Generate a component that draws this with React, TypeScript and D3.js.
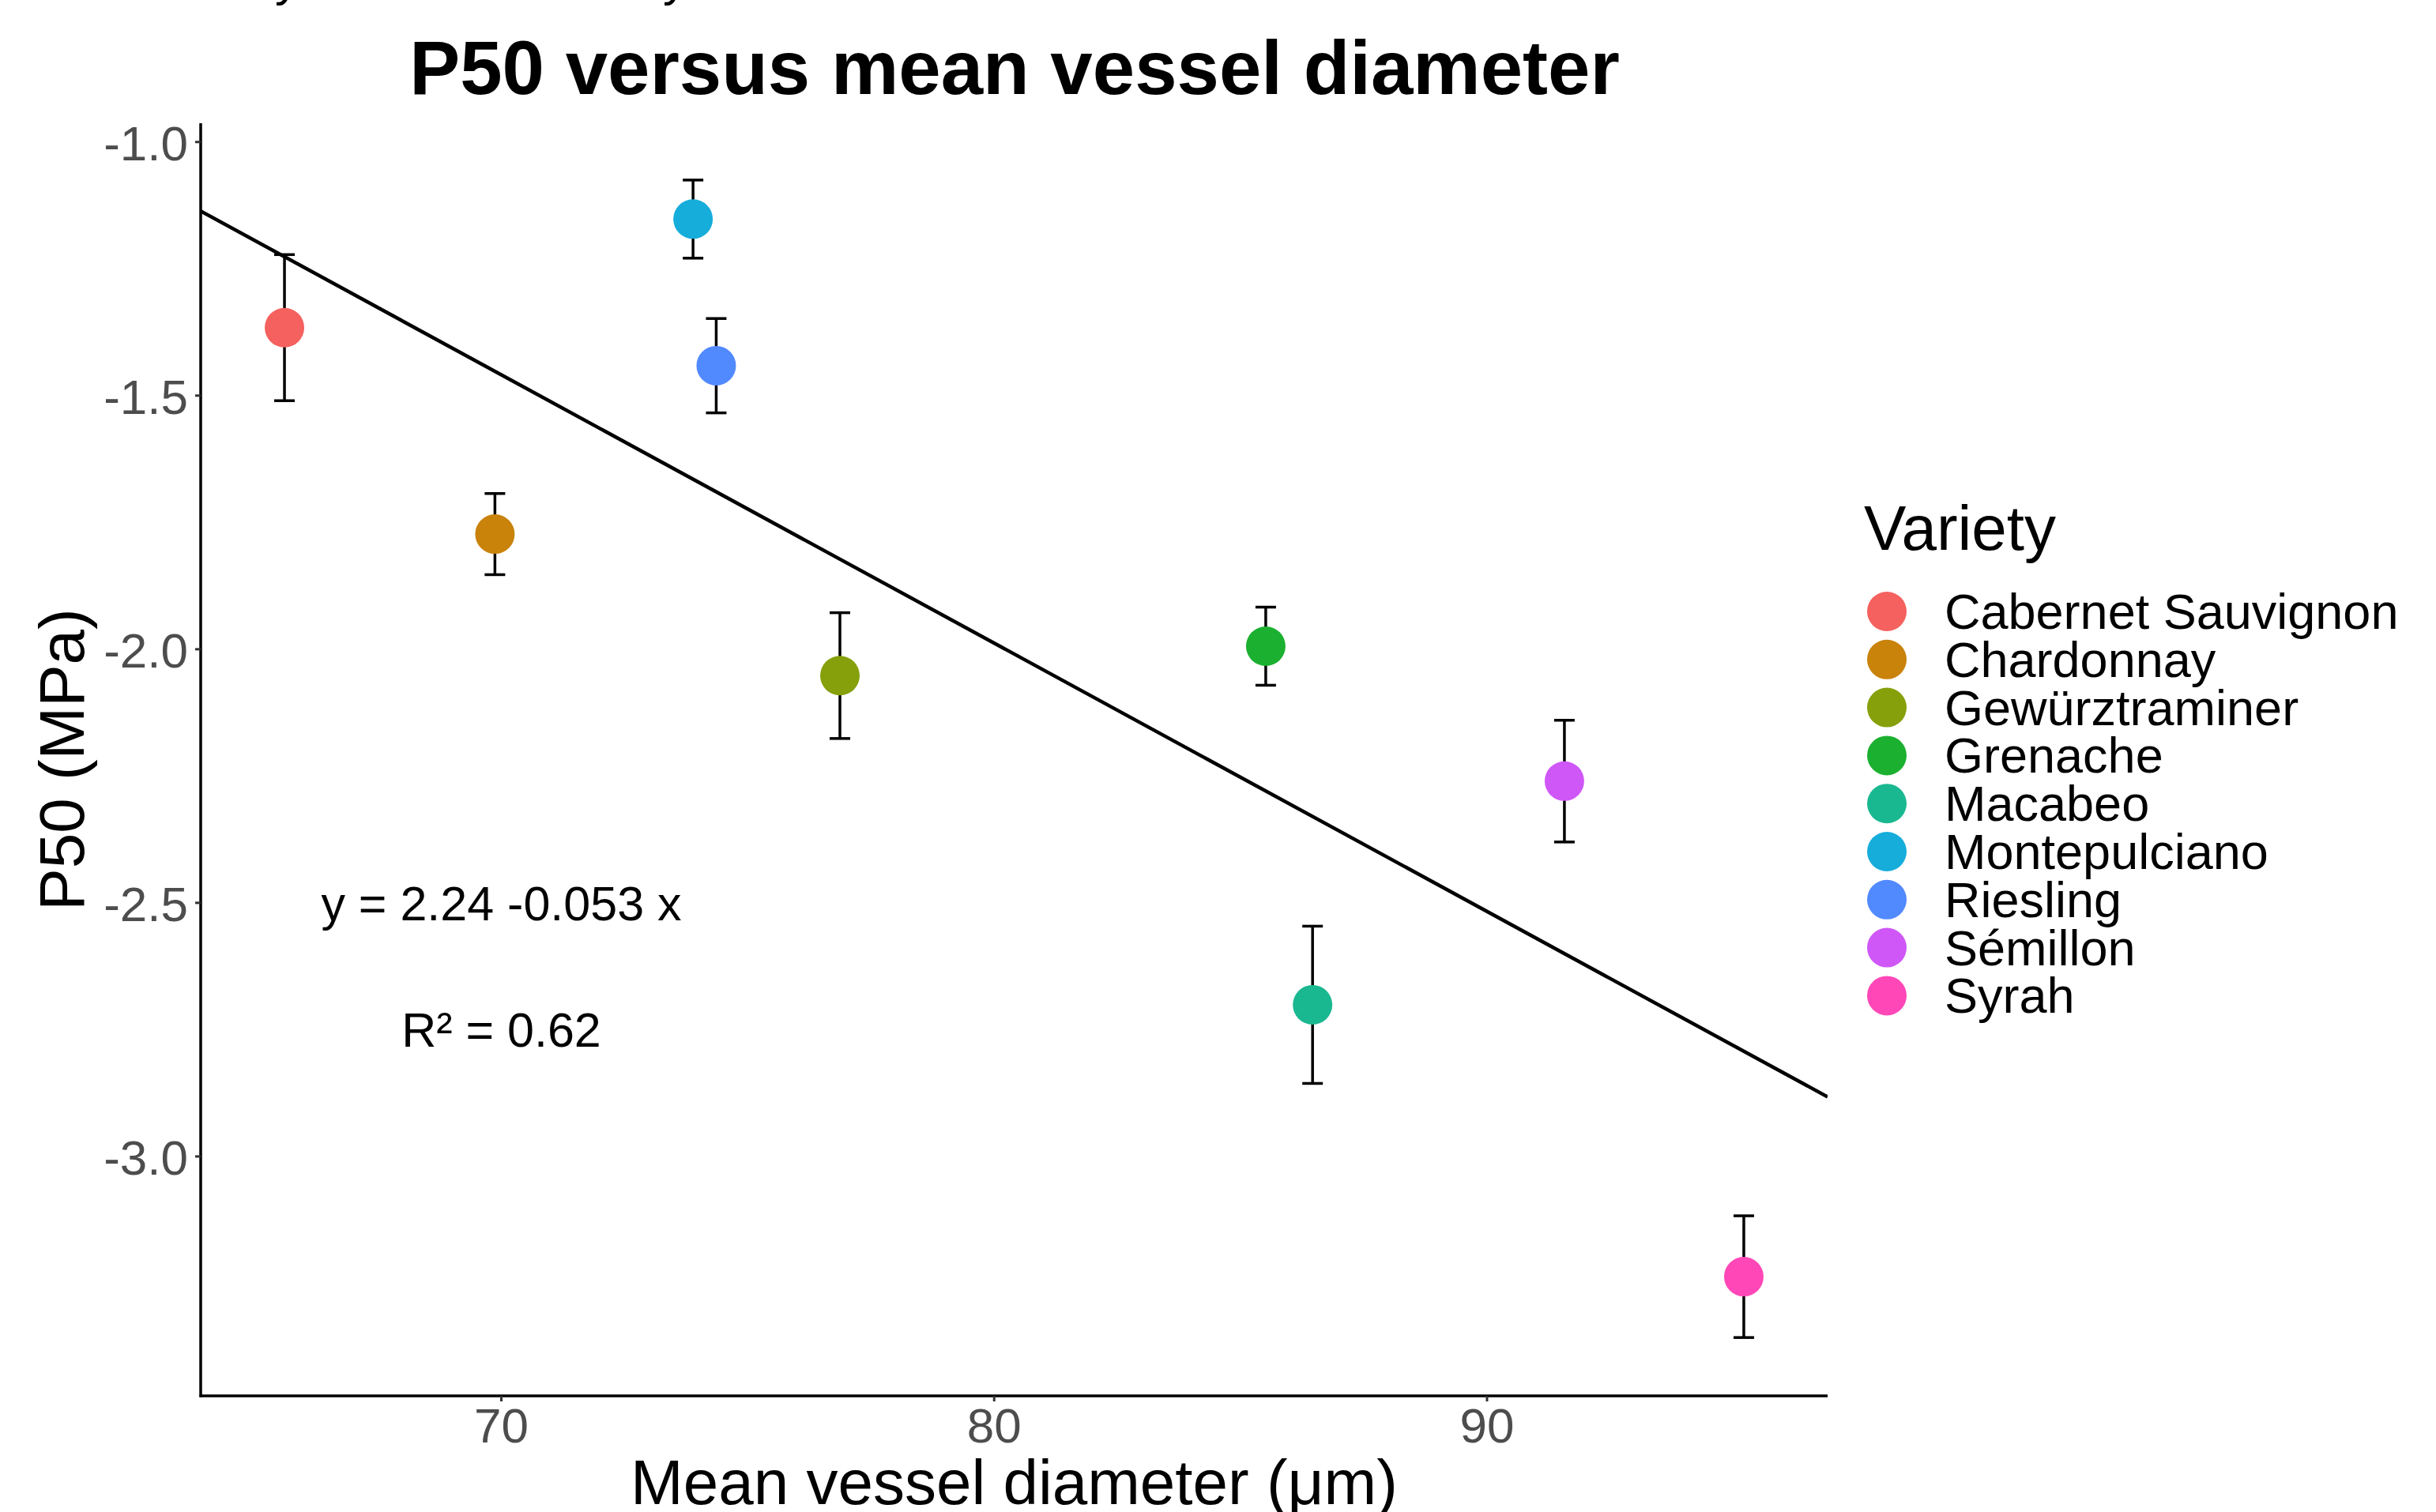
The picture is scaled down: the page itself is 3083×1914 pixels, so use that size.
import * as d3 from "d3";

// P50 versus mean vessel diameter, one point per variety with ±SE bars
const varieties = [
  "Cabernet Sauvignon",
  "Chardonnay",
  "Gewürztraminer",
  "Grenache",
  "Macabeo",
  "Montepulciano",
  "Riesling",
  "Sémillon",
  "Syrah",
];
const vesselDiameter = [65.6, 69.87, 76.87, 85.51, 86.46, 73.89, 74.36, 91.57, 95.21];
const p50 = [-1.366, -1.773, -2.052, -1.994, -2.701, -1.152, -1.441, -2.26, -3.237];
const p50Se = [0.144, 0.08, 0.124, 0.077, 0.155, 0.077, 0.093, 0.12, 0.12];
const colors = [
  "#F4615E",
  "#C9820A",
  "#85A00A",
  "#1BB030",
  "#1AB890",
  "#16ADDB",
  "#5189FF",
  "#CF57F7",
  "#FF47B8",
];
const xTicks = [70, 80, 90];
const yTicks = [-1.0, -1.5, -2.0, -2.5, -3.0];
const fitIntercept = 2.244;
const fitSlope = -0.0529;

const W = 3083;
const H = 1914;
const font = "'Liberation Sans', Arial, Helvetica, sans-serif";

export default function App() {
  const x = d3.scaleLinear().domain([63.9, 96.91]).range([254, 2313]);
  const y = d3.scaleLinear().domain([-3.472, -0.963]).range([1767, 156]);
  const [x0, x1] = x.range();
  const [yb, yt] = y.range();

  const fitLine = d3
    .line<number>()
    .x((d) => x(d))
    .y((d) => y(fitIntercept + fitSlope * d));

  const data = varieties.map((v, i) => ({
    name: v,
    x: vesselDiameter[i],
    y: p50[i],
    se: p50Se[i],
    color: colors[i],
  }));

  return (
    <svg
      width={W}
      height={H}
      style={{ position: "absolute", left: 0, top: 0, display: "block", background: "#fff" }}
      fontFamily={font}
    >
      <defs>
        <clipPath id="panel">
          <rect x={x0} y={yt} width={x1 - x0} height={yb - yt} />
        </clipPath>
      </defs>

      {/* cut-off text at the very top */}
      <text x={348} y={-6} fontSize={62} fill="#000">y</text>
      <text x={839} y={-6} fontSize={62} fill="#000">y</text>

      <text x={1284} y={119} textAnchor="middle" fontSize={96} fontWeight="bold" fill="#000">
        P50 versus mean vessel diameter
      </text>

      {/* regression line */}
      <path
        d={fitLine(x.domain()) || ""}
        stroke="#000"
        strokeWidth={4.5}
        fill="none"
        clipPath="url(#panel)"
      />

      {/* error bars */}
      {data.map((d) => (
        <g key={"eb" + d.name} stroke="#000" strokeWidth={3.5}>
          <line x1={x(d.x)} x2={x(d.x)} y1={y(d.y + d.se)} y2={y(d.y - d.se)} />
          <line x1={x(d.x) - 13} x2={x(d.x) + 13} y1={y(d.y + d.se)} y2={y(d.y + d.se)} />
          <line x1={x(d.x) - 13} x2={x(d.x) + 13} y1={y(d.y - d.se)} y2={y(d.y - d.se)} />
        </g>
      ))}

      {/* points */}
      {data.map((d) => (
        <circle key={"pt" + d.name} cx={x(d.x)} cy={y(d.y)} r={25} fill={d.color} />
      ))}

      {/* axes */}
      <line x1={x0} x2={x0} y1={yt} y2={yb + 1.5} stroke="#000" strokeWidth={3.5} />
      <line x1={x0 - 1.5} x2={x1} y1={yb} y2={yb} stroke="#000" strokeWidth={3.5} />

      {yTicks.map((t) => (
        <g key={"yt" + t}>
          <line x1={x0 - 7} x2={x0} y1={y(t)} y2={y(t)} stroke="#333" strokeWidth={3} />
          <text x={238} y={y(t) + 23} textAnchor="end" fontSize={62} fill="#4D4D4D">
            {d3.format(".1f")(t).replace("−", "-")}
          </text>
        </g>
      ))}

      {xTicks.map((t) => (
        <g key={"xt" + t}>
          <line x1={x(t)} x2={x(t)} y1={yb} y2={yb + 7} stroke="#333" strokeWidth={3} />
          <text x={x(t)} y={1826} textAnchor="middle" fontSize={62} fill="#4D4D4D">
            {t}
          </text>
        </g>
      ))}

      <text x={(x0 + x1) / 2} y={1904} textAnchor="middle" fontSize={80} fill="#000">
        Mean vessel diameter (μm)
      </text>
      <text
        transform={`translate(106, ${(yt + yb) / 2}) rotate(-90)`}
        textAnchor="middle"
        fontSize={80}
        fill="#000"
      >
        P50 (MPa)
      </text>

      {/* regression annotation */}
      <text x={x(70)} y={y(-2.5) + 22} textAnchor="middle" fontSize={61} fill="#000">
        y = 2.24 -0.053 x
      </text>
      <text x={x(70)} y={y(-2.75) + 22} textAnchor="middle" fontSize={61} fill="#000">
        R² = 0.62
      </text>

      {/* legend */}
      <text x={2359} y={696} fontSize={80} fill="#000">
        Variety
      </text>
      {data.map((d, i) => (
        <g key={"lg" + d.name} transform={`translate(0, ${774 + i * 60.8})`}>
          <circle cx={2388} cy={0} r={25} fill={d.color} />
          <text x={2461} y={22} fontSize={63} fill="#000">
            {d.name}
          </text>
        </g>
      ))}
    </svg>
  );
}
